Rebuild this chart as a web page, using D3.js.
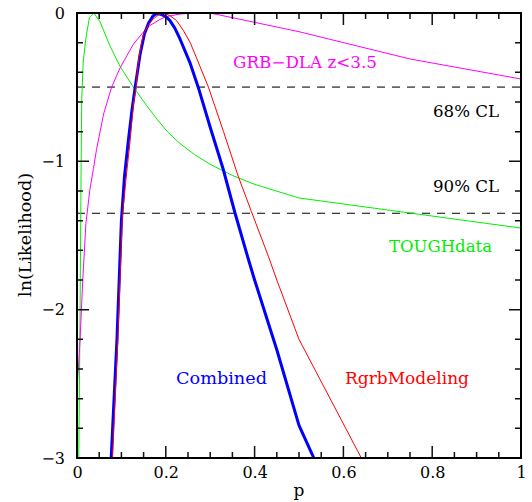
<!DOCTYPE html>
<html>
<head>
<meta charset="utf-8">
<script src="https://cdn.jsdelivr.net/npm/d3@7"></script>
<style>
  html, body { margin: 0; padding: 0; background: #fff; }
  svg { display: block; }
</style>
</head>
<body>
<svg id="chart" width="532" height="502"></svg>
<script>
// ---- data ----
const toughP  = [0.004, 0.007, 0.009, 0.0106, 0.014, 0.02, 0.028, 0.038, 0.052, 0.074, 0.097, 0.127, 0.157, 0.18, 0.205, 0.232, 0.265, 0.3, 0.35, 0.4, 0.5, 1.0];
const toughLn = [-3.0, -2.0, -1.13, -0.59, -0.33, -0.17, -0.03, 0.0, -0.06, -0.22, -0.36, -0.5, -0.625, -0.715, -0.805, -0.88, -0.955, -1.02, -1.095, -1.155, -1.247, -1.45];

const grbP  = [0.0, 0.007, 0.013, 0.02, 0.029, 0.037, 0.044, 0.06, 0.078, 0.097, 0.112, 0.127, 0.149, 0.164, 0.186, 0.2, 0.232, 0.26, 0.29, 0.3, 0.5, 0.75, 1.0];
const grbLn = [-2.54, -2.2, -1.8, -1.42, -1.19, -1.05, -0.92, -0.68, -0.5, -0.37, -0.29, -0.21, -0.13, -0.085, -0.045, -0.025, -0.007, -0.001, 0.0, 0.0, -0.126, -0.31, -0.445];

const combP  = [0.077, 0.09, 0.1, 0.107, 0.116, 0.124, 0.131, 0.142, 0.152, 0.161, 0.171, 0.181, 0.19, 0.2, 0.209, 0.22, 0.232, 0.255, 0.273, 0.3, 0.329, 0.356, 0.385, 0.4, 0.45, 0.5, 0.6];
const combLn = [-3.0, -2.2, -1.4, -1.1, -0.85, -0.65, -0.5, -0.28, -0.14, -0.07, -0.02, 0.0, -0.01, -0.025, -0.05, -0.1, -0.175, -0.34, -0.5, -0.77, -1.05, -1.35, -1.65, -1.8, -2.27, -2.78, -3.44];

const rgrbP  = [0.08, 0.092, 0.102, 0.11, 0.12, 0.127, 0.133, 0.138, 0.144, 0.149, 0.16, 0.17, 0.18, 0.19, 0.198, 0.21, 0.224, 0.24, 0.255, 0.277, 0.296, 0.33, 0.363, 0.393, 0.431, 0.45, 0.5, 0.7];
const rgrbLn = [-3.0, -2.2, -1.38, -1.13, -0.85, -0.62, -0.5, -0.33, -0.22, -0.15, -0.085, -0.045, -0.02, -0.005, 0.0, -0.02, -0.05, -0.12, -0.2, -0.36, -0.5, -0.8, -1.1, -1.34, -1.64, -1.8, -2.2, -3.34];

const clLevels = [-0.5, -1.35];
const xMajor = [0, 0.2, 0.4, 0.6, 0.8, 1];
const yMajor = [0, -1, -2, -3];
const xMinor = [0.05, 0.1, 0.15, 0.25, 0.3, 0.35, 0.45, 0.5, 0.55, 0.65, 0.7, 0.75, 0.85, 0.9, 0.95];
const yMinor = [-0.2, -0.4, -0.6, -0.8, -1.2, -1.4, -1.6, -1.8, -2.2, -2.4, -2.6, -2.8];

// ---- layout ----
const svg = d3.select("#chart");
const X0 = 77, X1 = 521, Y0 = 13, Y1 = 458;
const x = d3.scaleLinear().domain([0, 1]).range([X0, X1]);
const y = d3.scaleLinear().domain([0, -3]).range([Y0, Y1]);

svg.append("defs").append("clipPath").attr("id", "clip")
  .append("rect").attr("x", X0).attr("y", Y0).attr("width", X1 - X0).attr("height", Y1 - Y0);

const plot = svg.append("g").attr("clip-path", "url(#clip)");

// CL dashed lines
plot.selectAll("line.cl").data(clLevels).enter().append("line")
  .attr("x1", X0).attr("x2", X1)
  .attr("y1", d => y(d)).attr("y2", d => y(d))
  .attr("stroke", (d, i) => i === 0 ? "#666" : "#000")
  .attr("stroke-width", (d, i) => i === 0 ? 1.6 : 1)
  .attr("stroke-dasharray", "8,7");

const line = d3.line().x(d => x(d[0])).y(d => y(d[1]));
const series = [
  { p: toughP, v: toughLn, color: "#00ee00", w: 1 },
  { p: grbP, v: grbLn, color: "#ff00ff", w: 1 },
  { p: combP, v: combLn, color: "#0000ff", w: 3 },
  { p: rgrbP, v: rgrbLn, color: "#ff0000", w: 1 }
];
series.forEach(s => {
  plot.append("path")
    .datum(s.p.map((p, i) => [p, s.v[i]]))
    .attr("d", line)
    .attr("fill", "none")
    .attr("stroke", s.color)
    .attr("stroke-width", s.w)
    .attr("stroke-linejoin", "round");
});

// ---- ticks on all four sides, positioned through the scales ----
let td = "";
xMajor.forEach(v => { td += `M${x(v)},${Y1}V${Y1 - 12}M${x(v)},${Y0}V${Y0 + 12}`; });
xMinor.forEach(v => { td += `M${x(v)},${Y1}V${Y1 - 6}M${x(v)},${Y0}V${Y0 + 6}`; });
yMajor.forEach(v => { td += `M${X0},${y(v)}H${X0 + 12}M${X1},${y(v)}H${X1 - 12}`; });
yMinor.forEach(v => { td += `M${X0},${y(v)}H${X0 + 6}M${X1},${y(v)}H${X1 - 6}`; });
svg.append("path").attr("d", td).attr("fill", "none")
  .attr("stroke", "#111").attr("stroke-width", 1.5);

// tick labels via d3 axes (no lines)
const fontTick = "'DejaVu Serif', serif";
function styleAxis(g) {
  g.select(".domain").remove();
  g.selectAll(".tick line").remove();
  g.selectAll("text").attr("font-family", fontTick).attr("font-size", 16).attr("fill", "#000");
}
svg.append("g").attr("transform", `translate(0,${Y1})`)
  .call(d3.axisBottom(x).tickValues(xMajor).tickSize(0).tickPadding(9).tickFormat(d3.format("")))
  .call(styleAxis);
svg.append("g").attr("transform", `translate(${X0},0)`)
  .call(d3.axisLeft(y).tickValues(yMajor).tickSize(0).tickPadding(12).tickFormat(d3.format("")))
  .call(styleAxis);

// frame
svg.append("rect").attr("x", X0).attr("y", Y0).attr("width", X1 - X0).attr("height", Y1 - Y0)
  .attr("fill", "none").attr("stroke", "#000").attr("stroke-width", 2);

// axis titles
svg.append("text").attr("x", 299).attr("y", 496).attr("text-anchor", "middle")
  .attr("font-family", fontTick).attr("font-size", 17).text("p");
svg.append("text").attr("transform", "translate(31,235) rotate(-90)").attr("text-anchor", "middle")
  .attr("font-family", fontTick).attr("font-size", 17)
  .attr("textLength", 124).attr("lengthAdjust", "spacingAndGlyphs").text("ln(Likelihood)");

// annotations
const labels = [
  { t: "GRB\u2212DLA z<3.5", x: 233, y: 68, len: 144, c: "#ff00ff" },
  { t: "68% CL", x: 433, y: 117, len: 66, c: "#000" },
  { t: "90% CL", x: 433, y: 192, len: 66, c: "#000" },
  { t: "TOUGHdata", x: 389, y: 252, len: 103, c: "#00ee00" },
  { t: "Combined", x: 176, y: 384, len: 91, c: "#0000ff" },
  { t: "RgrbModeling", x: 345, y: 384, len: 124, c: "#ff0000" }
];
svg.selectAll("text.lab").data(labels).enter().append("text")
  .attr("class", "lab")
  .attr("x", d => d.x).attr("y", d => d.y)
  .attr("font-family", fontTick).attr("font-size", 16)
  .attr("fill", d => d.c)
  .attr("textLength", d => d.len).attr("lengthAdjust", "spacingAndGlyphs")
  .text(d => d.t);
</script>
</body>
</html>
